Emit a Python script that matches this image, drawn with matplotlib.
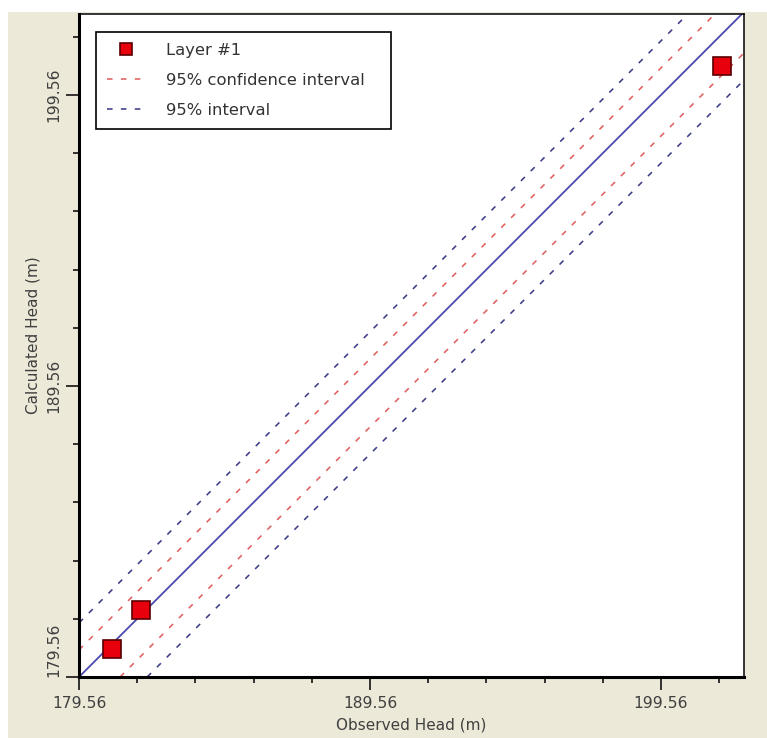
import matplotlib
matplotlib.use("Agg")
import matplotlib.pyplot as plt
from matplotlib.patches import Rectangle
from matplotlib.ticker import FixedLocator, MultipleLocator

# ---- data ----
observed = [180.71, 181.70, 201.66]
calculated = [180.52, 181.85, 200.54]
series_label = "Layer #1"
conf_label = "95% confidence interval"
pred_label = "95% interval"
conf_upper_offset = 0.93
conf_lower_offset = -1.41
pred_upper_offset = 1.86
pred_lower_offset = -2.34
tick_values = [179.56, 189.56, 199.56]
tick_labels = ["179.56", "189.56", "199.56"]
x_label = "Observed Head (m)"
y_label = "Calculated Head (m)"

plt.rcParams['font.family'] = ['DejaVu Sans']
plt.rcParams['lines.scale_dashes'] = False

W, H = 767, 738
fig = plt.figure(figsize=(W / 100, H / 100), dpi=100, facecolor='white')
fig.patches.append(Rectangle((8 / W, 0), 1, (H - 12) / H, transform=fig.transFigure,
                             facecolor='#ECE9D8', edgecolor='none', zorder=-10))

ax = fig.add_axes([79 / W, (H - 677) / H, 665 / W, 663 / H])
ax.set_facecolor('white')
ax.set_xlim(179.56, 202.41)
ax.set_ylim(179.56, 202.34)

fs_tick = 11.2
fs_lab = 11.0
fs_leg = 11.8
tcol = '#404040'

# 1:1 line
ax.axline((tick_values[0], tick_values[0]), slope=1, color='#4848b0', lw=1.3, zorder=2)
dash = (4.0, 6.0)
ax.axline((tick_values[0], tick_values[0] + conf_upper_offset), slope=1, color='#e06060',
          lw=1.15, dashes=dash, zorder=2, label=conf_label)
ax.axline((tick_values[0], tick_values[0] + conf_lower_offset), slope=1, color='#e06060',
          lw=1.15, dashes=dash, zorder=2)
ax.axline((tick_values[0], tick_values[0] + pred_upper_offset), slope=1, color='#3c3c88',
          lw=1.15, dashes=dash, zorder=2, label=pred_label)
ax.axline((tick_values[0], tick_values[0] + pred_lower_offset), slope=1, color='#3c3c88',
          lw=1.15, dashes=dash, zorder=2)

ax.plot(observed, calculated, linestyle='none', marker='s', markersize=13,
        markerfacecolor='#e8000c', markeredgecolor='#5a0000', markeredgewidth=1.2,
        zorder=5, label=series_label, clip_on=False)

# legend ordering
handles, labels = ax.get_legend_handles_labels()
order = [labels.index(series_label), labels.index(conf_label), labels.index(pred_label)]
x0 = (96 - 79) / 665
y1 = (677 - 32) / 663
y0 = (677 - 126) / 663
w = (391 - 96) / 665
leg = ax.legend([handles[i] for i in order], [labels[i] for i in order],
                loc='upper left', bbox_to_anchor=(x0, y0, w, y1 - y0), mode='expand',
                borderaxespad=0, frameon=True, fancybox=False, shadow=False,
                edgecolor='black', facecolor='white', framealpha=1, fontsize=fs_leg,
                handlelength=2.3, handletextpad=1.35, labelspacing=0.93, borderpad=0.65,
                markerscale=0.66)
leg.get_frame().set_linewidth(1.2)
for t in leg.get_texts():
    t.set_color('#333333')

# spines
for s in ['left', 'bottom']:
    ax.spines[s].set_linewidth(2.2)
for s in ['top', 'right']:
    ax.spines[s].set_linewidth(1.1)

# ticks
ax.xaxis.set_major_locator(FixedLocator(tick_values))
ax.yaxis.set_major_locator(FixedLocator(tick_values))
ax.set_xticklabels(tick_labels)
ax.set_yticklabels(tick_labels, rotation=90, va='center')
ax.xaxis.set_minor_locator(MultipleLocator(2, offset=tick_values[0] % 2))
ax.yaxis.set_minor_locator(MultipleLocator(2, offset=tick_values[0] % 2))
ax.tick_params(which='major', length=9.5, width=1.1, labelsize=fs_tick, labelcolor=tcol)
ax.tick_params(which='minor', length=4.5, width=1.1)
ax.tick_params(axis='x', which='major', pad=4.5)
ax.tick_params(axis='y', which='major', pad=3)
ax.get_yticklabels()[0].set_va('bottom')

ax.set_xlabel(x_label, fontsize=fs_lab, color=tcol)
ax.set_ylabel(y_label, fontsize=fs_lab, color=tcol)
ax.xaxis.set_label_coords(0.5, (677 - 718) / 663)
ax.yaxis.set_label_coords((41 - 79) / 665, (677 - 335) / 663)

fig.savefig('out.png', dpi=100, facecolor=fig.get_facecolor())
